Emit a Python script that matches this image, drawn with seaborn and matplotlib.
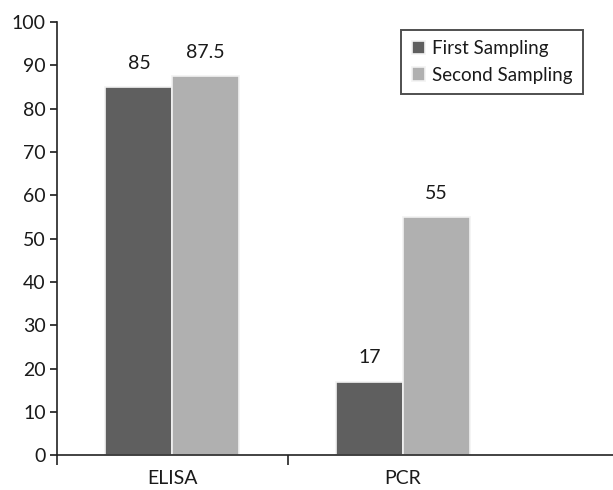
import pandas as pd
import matplotlib.pyplot as plt
import seaborn as sns

methods = ["ELISA", "PCR"]
first_sampling = [85, 17]
second_sampling = [87.5, 55]
value_labels = [["85", "17"], ["87.5", "55"]]

df = pd.DataFrame({
    "method": methods * 2,
    "value": first_sampling + second_sampling,
    "sampling": ["First Sampling"] * 2 + ["Second Sampling"] * 2,
})

sns.set_style("white")
plt.rcParams["font.family"] = ["Lato", "DejaVu Sans"]

fig = plt.figure(figsize=(6.13, 4.9), dpi=100)
ax = fig.add_axes([0.093, 0.071, 0.907, 0.884])

sns.barplot(data=df, x="method", y="value", hue="sampling",
            palette=["#5f5f5f", "#b0b0b0"], width=0.58, gap=0.0,
            edgecolor="#f2f2f2", linewidth=1.2, ax=ax)

for cont, labs in zip(ax.containers, value_labels):
    ax.bar_label(cont, labels=labs, padding=11, fontsize=14, color="#1a1a1a")

ax.set_ylim(0, 100)
ax.set_xlim(-0.5, 1.91)
ax.set_yticks(range(0, 101, 10))
ax.set_xlabel("")
ax.set_ylabel("")
ax.tick_params(axis="y", direction="out", length=5, width=1.2, labelsize=14,
               left=True, colors="#1a1a1a", pad=3)
ax.tick_params(axis="x", which="major", length=0, labelsize=14, pad=11,
               colors="#1a1a1a")
ax.set_xticks([-0.5, 0.5], minor=True)
ax.tick_params(axis="x", which="minor", direction="out", length=7, width=1.2,
               bottom=True, color="#222222")

sns.despine(ax=ax, top=True, right=True)
for s in ["left", "bottom"]:
    ax.spines[s].set_linewidth(1.2)
    ax.spines[s].set_color("#222222")

leg = ax.legend(title=None, loc="upper right", bbox_to_anchor=(0.946, 0.982),
                fontsize=13.5, frameon=True, fancybox=False, handlelength=0.7,
                handleheight=0.7, handletextpad=0.4, borderpad=0.55,
                labelspacing=0.5, borderaxespad=0)
leg.get_frame().set_edgecolor("#222222")
leg.get_frame().set_linewidth(1.4)
for t in leg.get_texts():
    t.set_color("#1a1a1a")

fig.savefig("out.png", dpi=100)
